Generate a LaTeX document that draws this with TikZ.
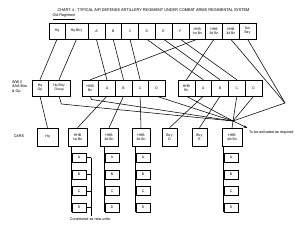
\documentclass[tikz,border=0pt]{standalone}
\usepackage{fontspec}
\setmainfont{TeX Gyre Heros}
\usetikzlibrary{arrows.meta}
\begin{document}
\begin{tikzpicture}[x=1pt,y=-1pt,
  bx/.style={draw, line width=0.55pt, minimum height=16pt, inner sep=0pt, align=center, font=\fontsize{3.4}{4.1}\selectfont},
  rowc/.style={bx, minimum height=18pt},
  sb/.style={bx, minimum width=14pt, minimum height=9pt},
  lbl/.style={inner sep=0pt, align=left, font=\fontsize{3.7}{4.4}\selectfont},
  ln/.style={line width=0.55pt}]
\useasboundingbox[fill=white] (0,0) rectangle (300,225);

% title and labels
\node[lbl, font=\fontsize{3.85}{4.4}\selectfont] (title) at (153.5,10) {CHART 4 - TYPICAL AIR DEFENSE ARTILLERY REGIMENT UNDER COMBAT ARMS REGIMENTAL SYSTEM};
\node[lbl] (oldreg) at (64,17) {\underline{Old Regiment}};
\node[lbl, anchor=west] (wwii) at (12,87) {WW II\\AAA Bns\\\& Gp};
\node[lbl] (cars) at (19,136) {CARS};

% row 1: old regiment
\node[bx, minimum width=16pt] (hq1) at (57,31) {Hq};
\node[bx, minimum width=23pt] (hqb1) at (76.5,31) {Hq Btry};
\node[bx, minimum width=16.8pt] (a1) at (96.4,31) {A};
\node[bx, minimum width=16.8pt] (b1) at (113.2,31) {B};
\node[bx, minimum width=16.8pt] (c1) at (130,31) {C};
\node[bx, minimum width=16.8pt] (d1) at (146.8,31) {D};
\node[bx, minimum width=16.8pt] (e1) at (163.6,31) {E};
\node[bx, minimum width=16.8pt] (f1) at (180.4,31) {F};
\node[bx, minimum width=16.8pt] (h11) at (197.2,31) {HHB\\1st Bn};
\node[bx, minimum width=16.8pt] (h21) at (214,31) {HHB\\2d Bn};
\node[bx, minimum width=16.8pt] (h31) at (230.8,31) {HHB\\3d Bn};
\node[bx, minimum width=16.8pt] (svc) at (247.6,31) {Svc\\Btry};

% row 2: WW II
\node[bx, minimum width=16pt] (hqg) at (40,88) {Hq\\Gp};
\node[bx, minimum width=22pt] (hqbg) at (59,88) {Hq Btry\\Group};
\node[bx, minimum width=16.6pt] (hb1) at (90.3,88) {HHB\\Bn};
\node[bx, minimum width=16.6pt] (ga1) at (106.9,88) {A};
\node[bx, minimum width=16.6pt] (gb1) at (123.5,88) {B};
\node[bx, minimum width=16.6pt] (gc1) at (140.1,88) {C};
\node[bx, minimum width=16.6pt] (gd1) at (156.7,88) {D};
\node[bx, minimum width=16.8pt] (hb2) at (186.4,88) {HHB\\Bn};
\node[bx, minimum width=16.8pt] (ga2) at (203.2,88) {A};
\node[bx, minimum width=16.8pt] (gb2) at (220,88) {B};
\node[bx, minimum width=16.8pt] (gc2) at (236.8,88) {C};
\node[bx, minimum width=16.8pt] (gd2) at (253.6,88) {D};

% row 3: CARS
\node[rowc, minimum width=21pt] (hq3) at (47.5,137) {Hq};
\node[rowc, minimum width=19pt] (cb1) at (77.5,137) {HHB\\1st Bn};
\node[rowc, minimum width=18pt] (cb2) at (109,137) {HHB\\2d Bn};
\node[rowc, minimum width=18pt] (cb3) at (141,137) {HHB\\3d Bn};
\node[rowc, minimum width=15pt] (btd) at (169.5,137) {Btry\\D};
\node[rowc, minimum width=15pt] (bte) at (199.5,137) {Btry\\E};
\node[rowc, minimum width=20pt] (cb4) at (232,137) {HHB\\4th Bn};

% sub-batteries
\foreach \n/\x in {1/79,2/112,3/143,4/231}{
  \node[sb] (s\n a) at (\x,157.5) {A};
  \node[sb] (s\n b) at (\x,174.5) {B};
  \node[sb] (s\n c) at (\x,191) {C};
  \node[sb] (s\n d) at (\x,207.5) {D};
}
\draw[ln] (s1a.north west |- cb1.south) -- (s1d.south west);
\draw[ln] (s2a.north west |- cb2.south) -- (s2d.south west);
\draw[ln] (s3a.north west |- cb3.south) -- (s3d.south west);
\draw[ln] (s4a.north west |- cb4.south) -- (s4d.south west);

% bracket and note
\coordinate (brtop) at (91,157.5);
\coordinate (brbot) at (91,215.5);
\draw[ln] (brtop) -- (brbot);
\foreach \s in {a,b,c,d}{\draw[ln] (s1\s.east) -- (s1\s.east -| brtop);}
\node[lbl] (const) at (90,219.5) {Constituted as new units};

% old -> WW II
\draw[ln] (hq1.south) -- (hqg.north);
\draw[ln] (hqb1.south) -- (hqbg.north);
\draw[ln] (a1.south) -- (ga1.north);
\draw[ln] (b1.south) -- (gb1.north);
\draw[ln] (c1.south) -- (gc1.north);
\draw[ln] (d1.south) -- (ga2.north);
\draw[ln] (e1.south) -- (gb2.north);
\draw[ln] (f1.south) -- (gc2.north);
\draw[ln] (h11.south) -- (hb1.north);
\draw[ln] (h21.south) -- (hb2.north);
\coordinate (rp) at (285,103);
\coordinate (conv) at (233,121);
\draw[ln] (h31.south) -- (rp);
\draw[ln] (svc.south) -- (rp);
\draw[ln] (rp) -- (conv);

% WW II -> CARS
\draw[ln] (hqg.south) -- (hq3.north);
\draw[ln] (ga1.south) -- (cb1.north);
\draw[ln] (gb1.south) -- (cb2.north);
\draw[ln] (gc1.south) -- (cb3.north);
\draw[ln] (ga2.south) -- (btd.north);
\draw[ln] (gb2.south) -- (bte.north);
\draw[ln] (gc2.south) -- (cb4.north);

% to be activated
\draw[ln] (hqbg.south) -- (61.5,104) -- (conv);
\draw[ln] (hb1.south) -- (91.5,99.5) -- (conv);
\draw[ln] (gd1.south) -- (conv);
\draw[ln] (hb2.south) -- (conv);
\draw[ln] (gd2.south) -- (conv);
\coordinate (tip) at (247.5,128);
\draw[ln, -{Stealth[length=4pt,width=2.6pt]}] (conv) -- (tip);
\node[lbl, anchor=west] (act) at (249,132.5) {To be activated as required};
\end{tikzpicture}
\end{document}
